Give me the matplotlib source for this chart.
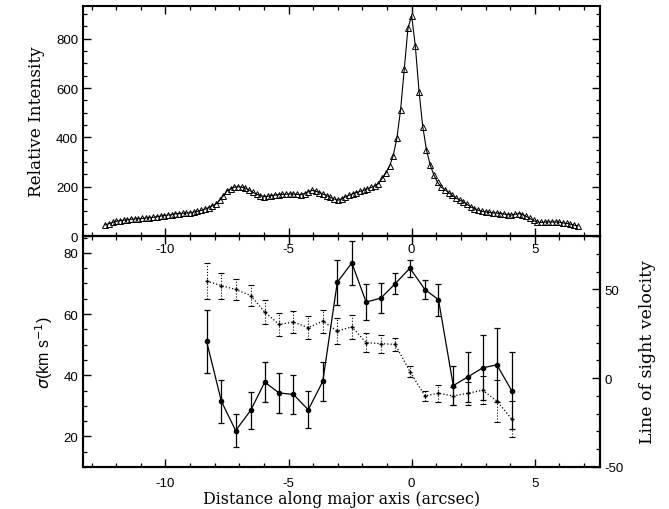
import numpy as np
import matplotlib
matplotlib.use('Agg')
import matplotlib.pyplot as plt
from matplotlib.ticker import MultipleLocator

plt.rcParams['axes.unicode_minus'] = False

# top panel: intensity profile, sampled every 0.15 arcsec
X0 = -12.45
DX = 0.15
intensity = [45, 50, 55, 60, 62, 64, 66, 68, 69, 70,
             71, 73, 74, 76, 78, 81, 83, 85, 87, 90,
             91, 92, 93, 94, 97, 100, 104, 109, 115, 122,
             130, 145, 163, 183, 192, 198, 200, 198, 194, 186,
             177, 170, 164, 160, 161, 164, 166, 168, 169, 170,
             171, 170, 169, 168, 172, 179, 185, 182, 176, 170,
             164, 157, 150, 145, 150, 158, 165, 171, 176, 181,
             185, 191, 197, 203, 212, 234, 255, 283, 326, 397,
             512, 676, 843, 893, 769, 586, 444, 350, 289, 248,
             218, 198, 188, 176, 165, 154, 146, 138, 128, 118,
             111, 105, 100, 98, 96, 94, 93, 91, 89, 87,
             85, 88, 91, 87, 80, 71, 63, 57, 55, 56,
             57, 57, 57, 56, 53, 51, 48, 44, 41]

# bottom panel
pos = [-8.33, -7.73, -7.15, -6.54, -5.97, -5.38, -4.80, -4.20, -3.61, -3.02, -2.43,
       -1.85, -1.25, -0.67, -0.07, 0.54, 1.09, 1.69, 2.27, 2.88, 3.46, 4.06]
sigma = [51.1, 31.5, 21.9, 28.5, 37.7, 34.2, 33.7, 28.7, 38.0, 70.4, 76.7,
         63.9, 65.2, 69.9, 75.0, 68.0, 64.7, 36.6, 39.4, 42.4, 43.4, 35.0]
sigma_err = [10.3, 7.0, 5.4, 6.0, 6.6, 6.5, 6.3, 6.0, 6.4, 7.3, 7.1,
             5.8, 4.9, 3.5, 2.8, 3.0, 5.2, 6.4, 8.2, 10.6, 12.0, 12.7]
vel = [54.6, 52.1, 49.9, 46.5, 37.2, 30.2, 31.6, 28.4, 32.1, 26.5, 28.9,
       20.0, 19.4, 19.0, 3.7, -10.0, -8.5, -10.0, -8.5, -6.8, -12.8, -23.0]
vel_err = [10.0, 7.3, 5.8, 6.0, 6.9, 6.3, 6.3, 6.3, 6.5, 7.5, 6.7,
           5.3, 5.0, 3.5, 3.3, 2.8, 4.7, 5.3, 6.6, 8.0, 11.6, 10.0]

xpos = np.round(X0 + DX * np.arange(len(intensity)), 2)

W, H = 669, 510
fig = plt.figure(figsize=(W / 100, H / 100), dpi=100)
L, R = 83 / W, 600 / W
mid = 1 - 237 / H
ax_b = fig.add_axes([L, 1 - 468 / H, R - L, mid - (1 - 468 / H)])
ax_r = ax_b.twinx()
ax_t = fig.add_axes([L, mid, R - L, (1 - 6.5 / H) - mid])
ax_t.set_zorder(5)
ax_t.patch.set_visible(False)

serif = 'DejaVu Serif'
tickfont = 'Liberation Sans'

def style(ax):
    for s in ax.spines.values():
        s.set_linewidth(1.5)
    ax.tick_params(which='major', direction='in', length=5.5, width=1.0,
                   labelsize=9.5)
    ax.tick_params(which='minor', direction='in', length=3, width=0.9)
    for lab in ax.get_xticklabels() + ax.get_yticklabels():
        lab.set_family(tickfont)

# top panel
ax_t.plot(xpos, intensity, '-', color='k', lw=0.8, marker='^', ms=4,
          mfc='none', mec='k', mew=0.7)
ax_t.set_xlim(-13.35, 7.65)
ax_t.set_ylim(0, 935)
ax_t.xaxis.set_major_locator(MultipleLocator(5))
ax_t.xaxis.set_minor_locator(MultipleLocator(1))
ax_t.yaxis.set_major_locator(MultipleLocator(200))
ax_t.yaxis.set_minor_locator(MultipleLocator(50))
ax_t.tick_params(which='both', top=True, right=True)
ax_t.tick_params(axis='x', pad=5)
ax_t.set_ylabel('Relative Intensity', family=serif, fontsize=12.2, labelpad=8)
style(ax_t)

# bottom panel, sigma on left axis
eb = ax_b.errorbar(pos, sigma, yerr=sigma_err, fmt='-o', color='k', lw=0.9,
                   ms=3, elinewidth=0.9, capsize=2.5, capthick=0.9)
ax_b.set_xlim(-13.35, 7.65)
ax_b.set_ylim(10, 85.5)
ax_b.xaxis.set_major_locator(MultipleLocator(5))
ax_b.xaxis.set_minor_locator(MultipleLocator(1))
ax_b.yaxis.set_major_locator(MultipleLocator(20))
ax_b.yaxis.set_minor_locator(MultipleLocator(5))
ax_b.tick_params(which='both', top=True)
ax_b.tick_params(axis='x', pad=7)
ax_b.set_xlabel('Distance along major axis (arcsec)', family=serif,
                fontsize=11.4, labelpad=1)
ax_b.set_ylabel(r'$\sigma$(km s$^{-1}$)', family=tickfont, fontsize=11.5,
                labelpad=6)
style(ax_b)

# velocity on right axis
ebv = ax_r.errorbar(pos, vel, yerr=vel_err, fmt='+', ls=':', color='k',
                    lw=0.9, ms=3, elinewidth=0.8, capsize=2.5, capthick=0.8)
ebv[2][0].set_linestyle(':')
ax_r.set_ylim(-50, 80)
ax_r.yaxis.set_major_locator(MultipleLocator(50))
ax_r.yaxis.set_minor_locator(MultipleLocator(10))
ax_r.set_ylabel('Line of sight velocity', family=serif, fontsize=12.5,
                labelpad=11)
style(ax_r)

fig.savefig('out.png', dpi=100)
